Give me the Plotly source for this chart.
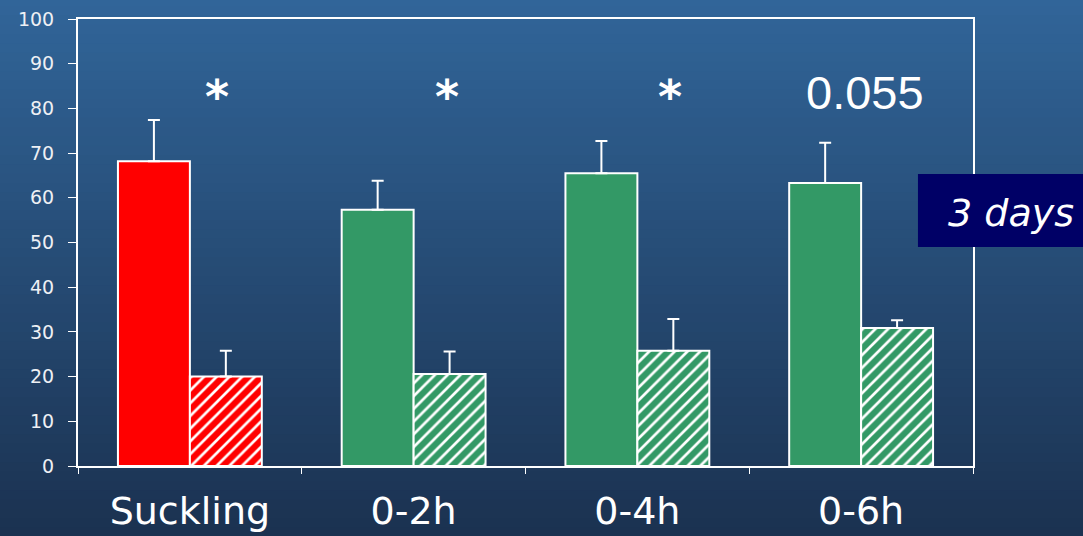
import plotly.graph_objects as go

# Feeding regimens and their two measurements (solid = first, hatched = second)
groups = ["Suckling", "0-2h", "0-4h", "0-6h"]
solid_vals = [68.2, 57.3, 65.5, 63.3]
solid_err = [9.2, 6.5, 7.2, 9.0]
hatched_vals = [20.0, 20.6, 25.8, 30.9]
hatched_err = [5.8, 5.0, 7.1, 1.7]
bar_colors = ["#ff0000", "#339966", "#339966", "#339966"]
marks = ["*", "*", "*", "0.055"]
y_ticks = list(range(0, 101, 10))

fig = go.Figure()

fig.add_trace(go.Bar(
    x=groups, y=solid_vals,
    marker=dict(color=bar_colors, line=dict(color="white", width=2)),
    error_y=dict(type="data", array=solid_err, arrayminus=[0] * 4,
                 symmetric=False, color="white", thickness=2, width=6),
    showlegend=False,
))
fig.add_trace(go.Bar(
    x=groups, y=hatched_vals,
    marker=dict(color=bar_colors, line=dict(color="white", width=2),
                pattern=dict(shape="/", fgcolor="white", fgopacity=1,
                             fillmode="overlay", size=9, solidity=0.3)),
    error_y=dict(type="data", array=hatched_err, arrayminus=[0] * 4,
                 symmetric=False, color="white", thickness=2, width=6),
    showlegend=False,
))

# vertical gradient background built from thin bands
top = (49, 101, 153)
bot = (26, 48, 78)
n = 60
shapes = []
for i in range(n):
    t = i / (n - 1)
    c = tuple(round(top[k] + (bot[k] - top[k]) * t) for k in range(3))
    y1 = 1.05 - i * (1.25 / n)
    shapes.append(dict(type="rect", xref="paper", yref="paper",
                       x0=-0.2, x1=1.3, y0=y1 - 1.25 / n - 0.002, y1=y1,
                       fillcolor="rgb(%d,%d,%d)" % c, line=dict(width=0),
                       layer="below"))
# "3 days" label box
shapes.append(dict(type="rect", xref="paper", yref="paper",
                   x0=0.9385, x1=1.13, y0=0.49, y1=0.653,
                   fillcolor="#000066", line=dict(width=0), layer="above"))

annotations = []
shifts = [27, 33, 33, 4]
for g, m, s in zip(groups, marks, shifts):
    if m == "*":
        annotations.append(dict(x=g, y=82.5, xref="x", yref="y",
                                text="<b>*</b>", showarrow=False, xshift=s,
                                xanchor="center", yanchor="middle",
                                font=dict(size=46, color="white",
                                          family="DejaVu Sans")))
    else:
        annotations.append(dict(x=g, y=83.5, xref="x", yref="y", text=m,
                                showarrow=False, xshift=s,
                                xanchor="center", yanchor="middle",
                                font=dict(size=47, color="white",
                                          family="Liberation Sans")))
annotations.append(dict(x=1.043, y=0.565, xref="paper", yref="paper",
                        text="3 days", showarrow=False,
                        xanchor="center", yanchor="middle",
                        font=dict(size=38, color="white", style="italic",
                                  family="DejaVu Sans")))

fig.update_layout(
    width=1083, height=536,
    margin=dict(l=78, r=110, t=19, b=70),
    paper_bgcolor="#24466c", plot_bgcolor="rgba(0,0,0,0)",
    barmode="group", bargap=0.357, bargroupgap=0,
    shapes=shapes, annotations=annotations,
    font=dict(family="DejaVu Sans", color="#eef0f4"),
)
fig.update_xaxes(
    showline=True, linecolor="white", linewidth=2, mirror=True,
    ticks="outside", tickson="boundaries", ticklen=6, tickcolor="white",
    tickfont=dict(size=38, color="white"), ticklabelstandoff=10,
    showgrid=False, automargin=False,
)
fig.update_yaxes(
    range=[0, 100], tickvals=y_ticks,
    showline=True, linecolor="white", linewidth=2, mirror=True,
    ticks="outside", ticklen=8, tickcolor="white",
    tickfont=dict(size=19), ticklabelstandoff=10,
    showgrid=False, zeroline=False, automargin=False,
)

fig.write_html("out.html")
